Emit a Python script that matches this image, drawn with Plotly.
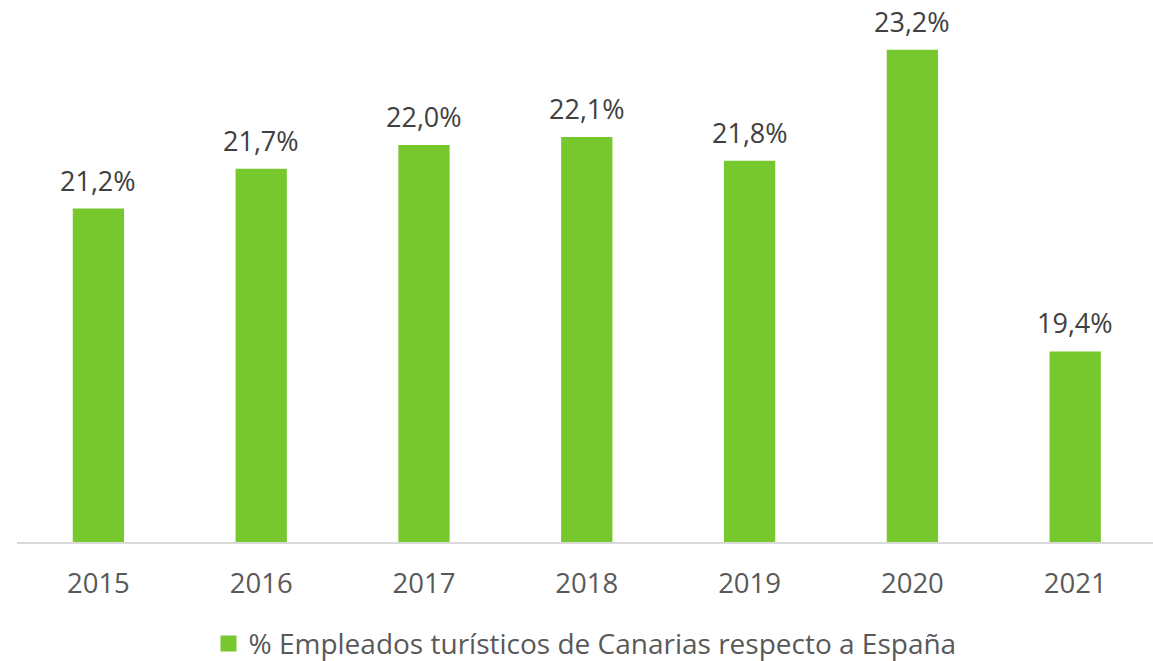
import plotly.graph_objects as go

years = ["2015", "2016", "2017", "2018", "2019", "2020", "2021"]
values = [21.2, 21.7, 22.0, 22.1, 21.8, 23.2, 19.4]
labels = ["21,2%", "21,7%", "22,0%", "22,1%", "21,8%", "23,2%", "19,4%"]
series_name = "% Empleados turísticos de Canarias respecto a España"
bar_color = "#77C72F"

fig = go.Figure()
fig.add_trace(go.Bar(
    x=years, y=values, name=series_name,
    marker=dict(color=bar_color, line=dict(width=0)),
    width=0.315,
    showlegend=False,
))
# legend entry
fig.add_trace(go.Scatter(
    x=[None], y=[None], mode="markers", name=series_name,
    marker=dict(symbol="square", size=20, color=bar_color),
    showlegend=True,
))

# value labels above bars (x given as category index)
for i, (v, lab) in enumerate(zip(values, labels)):
    fig.add_annotation(
        x=i, y=v, xref="x", yref="y", text=lab, showarrow=False,
        xanchor="center", yanchor="bottom", yshift=8,
        font=dict(family="Open Sans", size=27, color="#404040"),
    )

fig.update_layout(
    width=1153, height=661,
    margin=dict(l=17, r=0, t=10, b=119, autoexpand=False),
    paper_bgcolor="white", plot_bgcolor="white",
    font=dict(family="Open Sans", size=27.5, color="#595959"),
    xaxis=dict(
        type="category", range=[-0.5, 6.478],
        showline=True, linecolor="#D9D9D9", linewidth=2,
        showgrid=False, ticks="", ticklabelstandoff=16,
        tickfont=dict(family="Open Sans", size=27.5, color="#595959"),
        automargin=False,
    ),
    yaxis=dict(range=[17, 23.7], visible=False, showgrid=False),
    legend=dict(
        orientation="h", x=0.5, xanchor="center",
        yref="container", y=0.026, yanchor="middle",
        font=dict(family="Open Sans", size=28, color="#595959"),
        itemwidth=30,
    ),
)

fig.write_html("out.html", config={"displayModeBar": False},
               post_script="document.body.style.margin='0';")
